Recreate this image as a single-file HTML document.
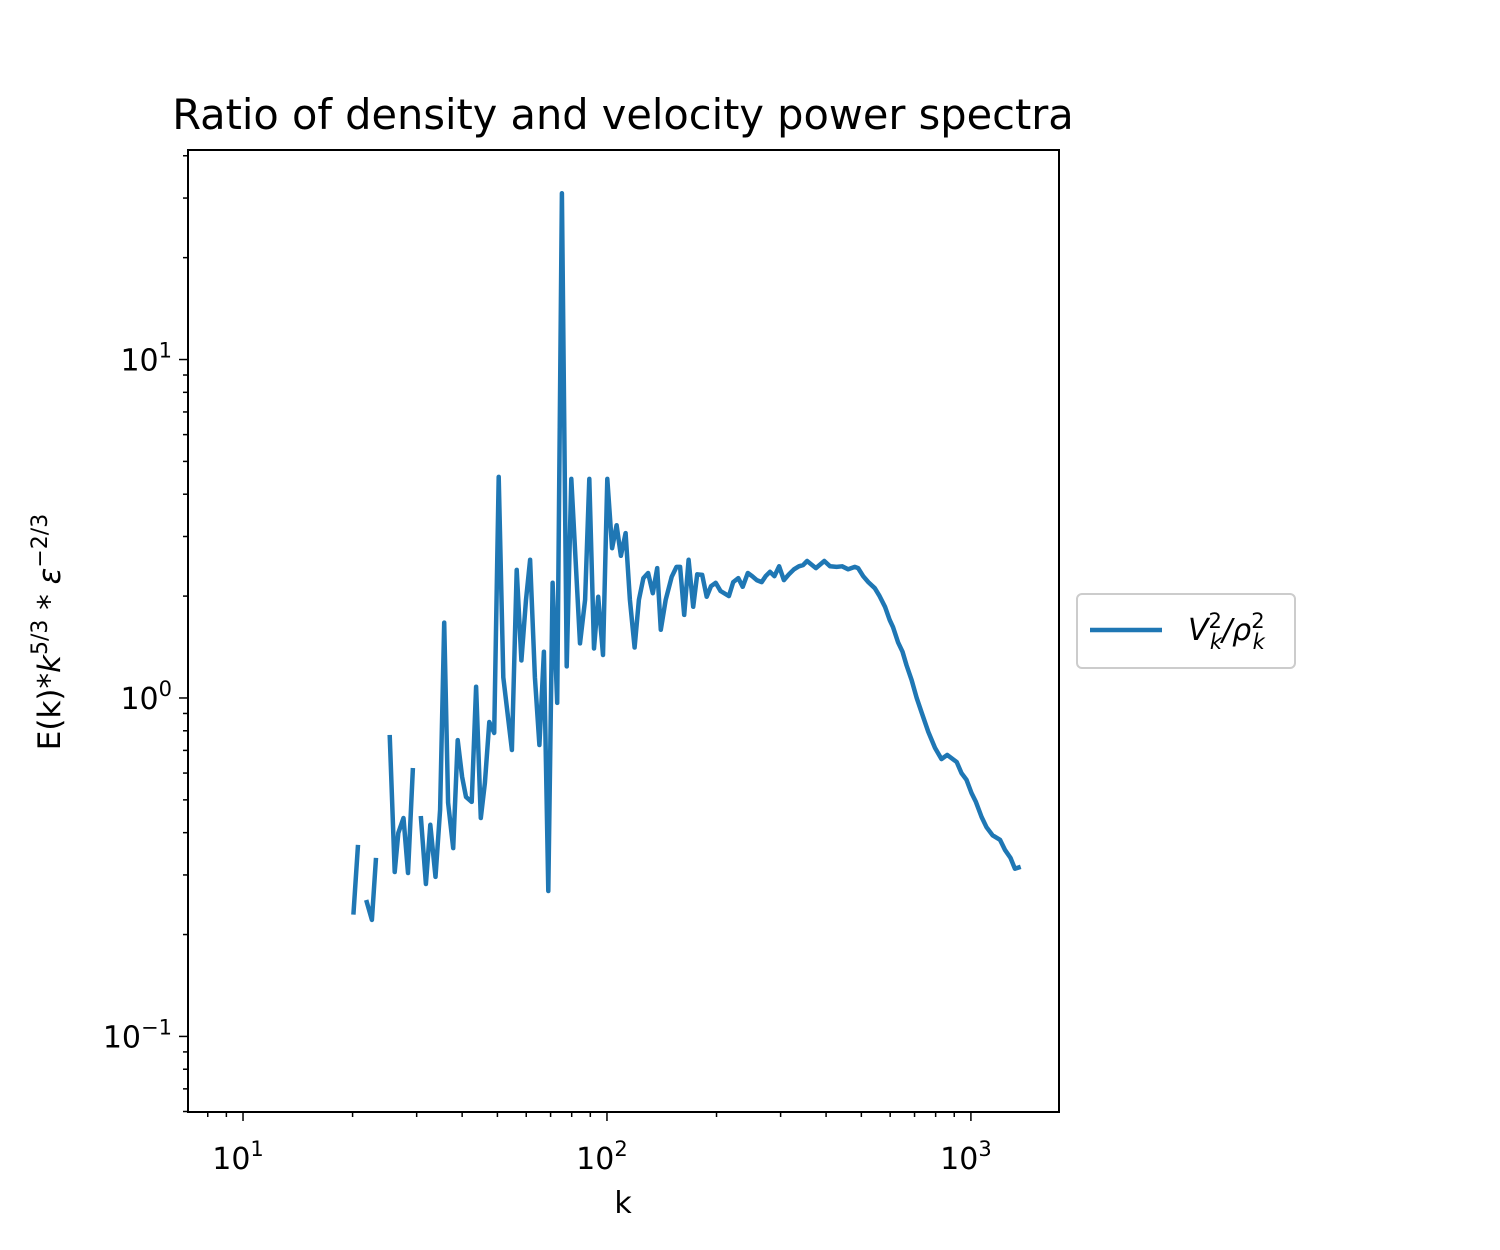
<!DOCTYPE html>
<html><head><meta charset="utf-8"><style>
html,body{margin:0;padding:0;background:#fff;}
svg{display:block;font-family:"DejaVu Sans","Liberation Sans",sans-serif;}
</style></head><body>
<svg id="chart" width="1500" height="1250" viewBox="0 0 1500 1250" xmlns="http://www.w3.org/2000/svg">
<rect width="1500" height="1250" fill="#fff"/>
<text x="623" y="129" font-size="41.5" text-anchor="middle" fill="#000">Ratio of density and velocity power spectra</text>
<g id="ticks"></g>
<g id="plot"></g>
<rect x="188" y="150" width="871" height="962" fill="none" stroke="#000" stroke-width="2"/>
<text x="623" y="1213" font-size="30" text-anchor="middle">k</text>
<text transform="translate(60,632) rotate(-90)" font-size="31" text-anchor="middle">E(k)*<tspan font-style="italic">k</tspan><tspan font-size="22" dy="-13">5/3</tspan><tspan dy="13"> * </tspan><tspan font-style="italic">ε</tspan><tspan font-size="22" dy="-13">−2/3</tspan></text>
<g>
<rect x="1077" y="594" width="218" height="74" rx="5" fill="#fff" stroke="#ccc" stroke-width="2"/>
<line x1="1090" y1="630" x2="1162" y2="630" stroke="#1f77b4" stroke-width="4.5"/>
<text x="1188" y="640" font-size="30" font-style="italic">V<tspan font-size="21" dy="-12" font-style="normal">2</tspan><tspan font-size="21" dx="-12" dy="21">k</tspan><tspan dy="-9">/ρ</tspan><tspan font-size="21" dy="-12" font-style="normal">2</tspan><tspan font-size="21" dx="-12" dy="21">k</tspan></text>
</g>
</svg>
<script>
const kVals = [20.1,20.7,null,21.8,22.6,23.2,null,25.3,26.1,26.7,27.6,28.4,29.3,null,30.8,31.8,32.7,33.8,34.8,35.7,36.6,37.8,38.9,40.0,41.0,42.5,43.7,45.0,46.2,47.5,49.0,50.4,51.9,54.8,56.5,58.2,59.9,61.5,63.4,65.2,67.1,69.0,70.9,73.0,75.2,77.5,79.8,84.3,87.1,89.4,92.1,94.6,97.5,100.2,103.3,106.3,109.2,112.5,115.6,119.1,122.4,125.9,129.7,133.6,137.4,140.6,145.0,150.6,155.3,158.8,163.0,167.6,172.6,177.0,182.7,187.9,193.1,199.0,205.1,216.3,222.3,229.6,236.0,243.7,250.6,257.8,266.1,272.9,280.5,288.4,297.2,306.3,316.2,326.6,336.7,345.9,354.8,375.0,395.4,410.2,427.6,442.6,460.2,479.8,489.8,505.8,522.4,544.5,559.8,580.7,598.4,611.0,631.0,648.6,665.3,687.1,709.6,732.8,763.8,796.8,830.4,860.9,913.9,942.4,972.6,1004,1032,1070,1104,1147,1202,1240,1285,1321,1370];
const ratioVals = [0.229,0.368,null,0.253,0.221,0.337,null,0.778,0.306,0.399,0.442,0.304,0.621,null,0.448,0.282,0.422,0.296,0.467,1.67,0.490,0.360,0.751,0.585,0.510,0.493,1.08,0.442,0.561,0.849,0.788,4.50,1.15,0.702,2.39,1.29,1.95,2.56,1.15,0.726,1.37,0.269,2.19,0.967,31.0,1.24,4.44,1.45,1.95,4.44,1.40,1.99,1.34,4.44,2.77,3.24,2.63,3.07,1.95,1.41,1.95,2.26,2.34,2.04,2.42,1.59,1.95,2.28,2.44,2.44,1.76,2.56,1.86,2.32,2.31,1.99,2.14,2.19,2.07,2.00,2.20,2.26,2.13,2.34,2.29,2.23,2.20,2.29,2.36,2.29,2.45,2.23,2.32,2.40,2.45,2.47,2.54,2.42,2.54,2.45,2.44,2.45,2.40,2.44,2.42,2.29,2.20,2.11,2.01,1.86,1.70,1.62,1.46,1.37,1.25,1.13,1.00,0.903,0.794,0.712,0.660,0.679,0.647,0.600,0.573,0.524,0.493,0.445,0.415,0.393,0.381,0.356,0.337,0.313,0.317];
const xMajor = [10,100,1000];
const xMajorExp = ["1","2","3"];
const yMajor = [0.1,1,10];
const yMajorExp = ["−1","0","1"];

const X0=188,X1=1059,Y0=150,Y1=1112;
const xMin=Math.log10(7.06), xMax=Math.log10(1746);
const yMin=Math.log10(0.0598), yMax=Math.log10(41.6);
function xs(k){return X0+(Math.log10(k)-xMin)/(xMax-xMin)*(X1-X0);}
function ys(v){return Y1-(Math.log10(v)-yMin)/(yMax-yMin)*(Y1-Y0);}
const NS="http://www.w3.org/2000/svg";
const ticks=document.getElementById('ticks');
const plot=document.getElementById('plot');
function mk(tag,attrs,parent){const e=document.createElementNS(NS,tag);for(const a in attrs)e.setAttribute(a,attrs[a]);parent.appendChild(e);return e;}

for(let d=0.01;d<=1000;d*=10){for(let m=2;m<=9;m++){const v=d*m;
 if(v>=7.06&&v<=1746){const x=xs(v);const t=mk('line',{x1:x,x2:x,y1:Y1,y2:Y1+5,stroke:'#000','stroke-width':1.5},ticks);
 
 }
 if(v>=0.0598&&v<=41.6){const y=ys(v);const t=mk('line',{x1:X0-5,x2:X0,y1:y,y2:y,stroke:'#000','stroke-width':1.5},ticks);
 
 }
}}
xMajor.forEach((v,i)=>{const x=xs(v);
 const t=mk('line',{x1:x,x2:x,y1:Y1,y2:Y1+9,stroke:'#000','stroke-width':1.5},ticks);
 
 
 const tx=mk('text',{x:x-5,y:Y1+57,'font-size':30,'text-anchor':'middle'},ticks);
 
 
 tx.innerHTML='10<tspan font-size="21" dy="-13">'+xMajorExp[i]+'</tspan>';
});
yMajor.forEach((v,i)=>{const y=ys(v);
 const t=mk('line',{x1:X0-9,x2:X0,y1:y,y2:y,stroke:'#000','stroke-width':1.5},ticks);
 
 
 const tx=mk('text',{x:172,y:y+11,'font-size':30,'text-anchor':'end'},ticks);
 
 
 tx.innerHTML='10<tspan font-size="21" dy="-13">'+yMajorExp[i]+'</tspan>';
});
let d='';let pen=false;
for(let i=0;i<kVals.length;i++){
 if(kVals[i]==null||ratioVals[i]==null){pen=false;continue;}
 d+=(pen?'L':'M')+xs(kVals[i]).toFixed(1)+','+ys(ratioVals[i]).toFixed(1);pen=true;
}
const p=mk('path',{d:d,fill:'none',stroke:'#1f77b4','stroke-width':4.5,'stroke-linejoin':'round','stroke-linecap':'butt'},plot);


</script>
</body></html>
